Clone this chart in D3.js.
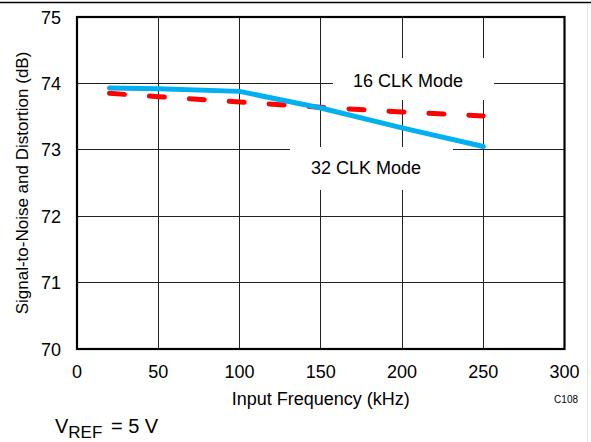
<!DOCTYPE html>
<html><head><meta charset="utf-8">
<script src="https://cdn.jsdelivr.net/npm/d3@7"></script>
<style>body{margin:0;background:#fff}svg{display:block}text{font-family:"Liberation Sans",Arial,sans-serif;fill:#000}</style>
</head><body>
<script>
const freq = [20, 50, 100, 150, 200, 250];
const snd32 = [73.93, 73.92, 73.88, 73.63, 73.33, 73.05];
const snd16 = [73.85, 73.80, 73.72, 73.64, 73.57, 73.51];
const xTicks = [0, 50, 100, 150, 200, 250, 300];
const yTicks = [70, 71, 72, 73, 74, 75];

const W = 591, H = 442;
const m = {l: 77, r: 564.5, t: 17, b: 349};
const svg = d3.select("body").append("svg").attr("width", W).attr("height", H);
const x = d3.scaleLinear().domain([0, 300]).range([m.l, m.r]);
const y = d3.scaleLinear().domain([70, 75]).range([m.b, m.t]);

// top rule
svg.append("line").attr("x1", 0).attr("x2", W).attr("y1", 2.5).attr("y2", 2.5).attr("stroke", "#000").attr("stroke-width", 1.5);
svg.append("line").attr("x1", 587.5).attr("x2", 587.5).attr("y1", 4).attr("y2", 442).attr("stroke", "#e6e6e6").attr("stroke-width", 1);

// grid
const g = svg.append("g");
g.selectAll(".vx").data(xTicks.slice(1, -1)).enter().append("line")
  .attr("x1", d => x(d)).attr("x2", d => x(d)).attr("y1", m.t).attr("y2", m.b)
  .attr("stroke", "#222").attr("stroke-width", 1).attr("shape-rendering", "crispEdges");
g.selectAll(".hy").data(yTicks.slice(1, -1)).enter().append("line")
  .attr("x1", m.l).attr("x2", m.r).attr("y1", d => y(d)).attr("y2", d => y(d))
  .attr("stroke", "#222").attr("stroke-width", 1).attr("shape-rendering", "crispEdges");

// label boxes (white, occluding grid)
svg.append("rect").attr("x", 333).attr("y", 58).attr("width", 161).attr("height", 42).attr("fill", "#fff");
svg.append("rect").attr("x", 290).attr("y", 147).attr("width", 163).attr("height", 43).attr("fill", "#fff");

// frame
svg.append("rect").attr("x", m.l).attr("y", m.t).attr("width", m.r - m.l).attr("height", m.b - m.t)
  .attr("fill", "none").attr("stroke", "#000").attr("stroke-width", 2.2);

// lines
const line = d3.line().x(d => x(d[0])).y(d => y(d[1]));
svg.append("path").datum(freq.map((f, i) => [f, snd16[i]])).attr("d", line)
  .attr("fill", "none").attr("stroke", "#ff0000").attr("stroke-width", 5)
  .attr("stroke-dasharray", "15,25").attr("stroke-linecap", "round");
svg.append("path").datum(freq.map((f, i) => [f, snd32[i]])).attr("d", line)
  .attr("fill", "none").attr("stroke", "#00b0f0").attr("stroke-width", 5).attr("stroke-linecap", "round");

// annotations
svg.append("text").attr("x", 408).attr("y", 87).attr("text-anchor", "middle").attr("font-size", 18).text("16 CLK Mode");
svg.append("text").attr("x", 366).attr("y", 174).attr("text-anchor", "middle").attr("font-size", 18).text("32 CLK Mode");

// tick labels
svg.selectAll(".xt").data(xTicks).enter().append("text")
  .attr("x", d => x(d)).attr("y", 378).attr("text-anchor", "middle").attr("font-size", 18).text(d => d);
svg.selectAll(".yt").data(yTicks).enter().append("text")
  .attr("x", 61).attr("y", d => y(d) + 6.5).attr("text-anchor", "end").attr("font-size", 18).text(d => d);

// axis titles
svg.append("text").attr("x", x(150)).attr("y", 405).attr("text-anchor", "middle").attr("font-size", 18).text("Input Frequency (kHz)");
svg.append("text").attr("transform", `translate(28,${(m.t + m.b) / 2}) rotate(-90)`).attr("text-anchor", "middle")
  .attr("font-size", 17).text("Signal-to-Noise and Distortion (dB)");

svg.append("text").attr("x", 578).attr("y", 403).attr("text-anchor", "end").attr("font-size", 10).text("C108");

const v = svg.append("text").attr("x", 55).attr("y", 433).attr("font-size", 20);
v.append("tspan").text("V");
v.append("tspan").attr("font-size", 17).attr("dy", 5).text("REF");
v.append("tspan").attr("dy", -5).attr("dx", 3).text(" = 5 V");
</script>
</body></html>
